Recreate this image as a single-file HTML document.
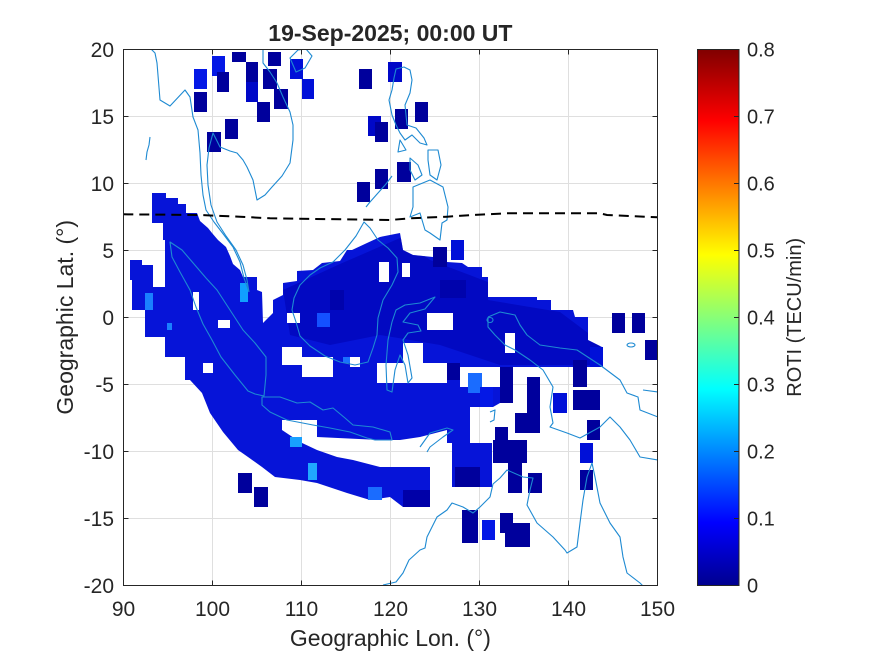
<!DOCTYPE html>
<html>
<head>
<meta charset="utf-8">
<style>
html,body{margin:0;padding:0;background:#fff;}
svg{display:block;}
text{font-family:"Liberation Sans",Arial,sans-serif;fill:#262626;}
</style>
</head>
<body>
<svg width="875" height="656" viewBox="0 0 875 656" xmlns="http://www.w3.org/2000/svg">
<defs>
<clipPath id="ax"><rect x="123.3" y="49.3" width="534" height="536"/></clipPath>
<clipPath id="blobclip"><polygon points="152,193 166,193 166,198 178,198 178,204 186,204 186,213 197,213 200,221 208,228 212,233 218,240 226,247 230,256 233,264 240,270 243,277 257,277 257,290 262,292 263,323 273,313 273,300 283,295 283,283 297,281 297,271 313,270 322,263 340,261 347,250 352,250 367,243 380,237 400,233 403,250 413,255 433,257 433,247 447,247 447,262 462,263 468,267 482,267 482,277 488,277 488,297 537,297 537,300 551,300 551,310 573,310 575,317 588,317 588,340 602,347 602,367 500,367 500,403 493,407 470,407 470,443 492,443 492,487 452,487 452,443 447,443 447,430 420,437 400,440 380,440 317,437 317,420 282,420 282,430 300,442 317,450 337,457 353,460 380,467 430,467 430,507 403,507 390,497 370,500 347,493 317,483 300,480 275,477 262,467 248,457 238,450 223,432 210,413 202,393 190,380 185,380 185,357 165,357 165,337 145,337 145,310 132,310 132,280 130,280 130,260 142,260 142,265 153,265 153,287 165,287 165,240 163,240 163,223 152,223"/></clipPath>
<linearGradient id="jet" x1="0" y1="1" x2="0" y2="0">
<stop offset="0" stop-color="#00008f"/>
<stop offset="0.117" stop-color="#0000ff"/>
<stop offset="0.367" stop-color="#00ffff"/>
<stop offset="0.617" stop-color="#ffff00"/>
<stop offset="0.867" stop-color="#ff0000"/>
<stop offset="1" stop-color="#800000"/>
</linearGradient>
</defs>
<rect width="875" height="656" fill="#fff"/>

<!-- grid -->
<g stroke="#dfdfdf" stroke-width="1">
<line x1="212.5" y1="49.5" x2="212.5" y2="585.5"/>
<line x1="301.5" y1="49.5" x2="301.5" y2="585.5"/>
<line x1="390.5" y1="49.5" x2="390.5" y2="585.5"/>
<line x1="479.5" y1="49.5" x2="479.5" y2="585.5"/>
<line x1="568.5" y1="49.5" x2="568.5" y2="585.5"/>
<line x1="123.5" y1="116.5" x2="657.5" y2="116.5"/>
<line x1="123.5" y1="183.5" x2="657.5" y2="183.5"/>
<line x1="123.5" y1="250.5" x2="657.5" y2="250.5"/>
<line x1="123.5" y1="317.5" x2="657.5" y2="317.5"/>
<line x1="123.5" y1="384.5" x2="657.5" y2="384.5"/>
<line x1="123.5" y1="451.5" x2="657.5" y2="451.5"/>
<line x1="123.5" y1="518.5" x2="657.5" y2="518.5"/>
</g>

<g clip-path="url(#ax)">
<!-- main blob -->
<polygon fill="#0614d8" points="152,193 166,193 166,198 178,198 178,204 186,204 186,213 197,213 200,221 208,228 212,233 218,240 226,247 230,256 233,264 240,270 243,277 257,277 257,290 262,292 263,323 273,313 273,300 283,295 283,283 297,281 297,271 313,270 322,263 340,261 347,250 352,250 367,243 380,237 400,233 403,250 413,255 433,257 433,247 447,247 447,262 462,263 468,267 482,267 482,277 488,277 488,297 537,297 537,300 551,300 551,310 573,310 575,317 588,317 588,340 602,347 602,367 500,367 500,403 493,407 470,407 470,443 492,443 492,487 452,487 452,443 447,443 447,430 420,437 400,440 380,440 317,437 317,420 282,420 282,430 300,442 317,450 337,457 353,460 380,467 430,467 430,507 403,507 390,497 370,500 347,493 317,483 300,480 275,477 262,467 248,457 238,450 223,432 210,413 202,393 190,380 185,380 185,357 165,357 165,337 145,337 145,310 132,310 132,280 130,280 130,260 142,260 142,265 153,265 153,287 165,287 165,240 163,240 163,223 152,223"/>
<!-- darker central region (clipped to blob) -->
<g clip-path="url(#blobclip)">
<polygon fill="#0000b0" opacity="0.55" points="283,290 340,264 400,238 430,260 488,282 488,300 560,312 600,342 600,365 500,365 440,345 380,335 330,345 290,335"/>
<rect x="403" y="490" width="27" height="17" fill="#0000a8"/>
<rect x="455" y="467" width="25" height="20" fill="#00009c"/>
<rect x="330" y="290" width="14" height="20" fill="#00009c" opacity="0.6"/>
<rect x="440" y="280" width="26" height="18" fill="#00009c" opacity="0.6"/>
</g>

<!-- holes -->
<g fill="#fff">
<rect x="282" y="347" width="20" height="18"/>
<rect x="302" y="357" width="31" height="20"/>
<rect x="287" y="313" width="13" height="10"/>
<rect x="350" y="357" width="10" height="10"/>
<rect x="203" y="363" width="10" height="10"/>
<rect x="377" y="363" width="70" height="20"/>
<rect x="403" y="343" width="20" height="20"/>
<rect x="427" y="313" width="26" height="17"/>
<rect x="379" y="262" width="10" height="20"/>
<rect x="505" y="333" width="10" height="20"/>
<rect x="460" y="367" width="40" height="20"/>
<rect x="402" y="263" width="8" height="14"/>
<rect x="218" y="320" width="12" height="8"/>
<rect x="193" y="292" width="6" height="18"/>
</g>

<!-- isolated cells -->
<rect x="194" y="69" width="13" height="20" fill="#0418e6"/>
<rect x="194" y="92" width="13" height="20" fill="#00009c"/>
<rect x="212" y="56" width="13" height="20" fill="#0418e6"/>
<rect x="217" y="72" width="12" height="20" fill="#00009c"/>
<rect x="232" y="52" width="14" height="10" fill="#00009c"/>
<rect x="246" y="62" width="12" height="20" fill="#00009c"/>
<rect x="246" y="82" width="12" height="20" fill="#0008c8"/>
<rect x="257" y="102" width="13" height="20" fill="#00009c"/>
<rect x="263" y="69" width="14" height="20" fill="#00009c"/>
<rect x="268" y="52" width="13" height="14" fill="#00009c"/>
<rect x="274" y="89" width="14" height="20" fill="#00009c"/>
<rect x="290" y="59" width="13" height="20" fill="#0010d8"/>
<rect x="302" y="79" width="12" height="20" fill="#0010d8"/>
<rect x="225" y="119" width="13" height="20" fill="#00009c"/>
<rect x="207" y="132" width="14" height="20" fill="#00009c"/>
<rect x="359" y="69" width="13" height="20" fill="#00009c"/>
<rect x="388" y="62" width="14" height="20" fill="#0008c8"/>
<rect x="395" y="109" width="13" height="20" fill="#00009c"/>
<rect x="415" y="102" width="13" height="20" fill="#00009c"/>
<rect x="368" y="116" width="13" height="20" fill="#0008c8"/>
<rect x="375" y="122" width="13" height="20" fill="#00009c"/>
<rect x="397" y="162" width="14" height="20" fill="#00009c"/>
<rect x="375" y="169" width="13" height="20" fill="#00009c"/>
<rect x="357" y="182" width="13" height="20" fill="#00009c"/>
<rect x="433" y="247" width="14" height="20" fill="#00009c"/>
<rect x="451" y="240" width="13" height="20" fill="#0010d8"/>

<rect x="612" y="313" width="13" height="20" fill="#00009c"/>
<rect x="632" y="313" width="13" height="20" fill="#00009c"/>
<rect x="645" y="340" width="12" height="20" fill="#00009c"/>
<rect x="590" y="347" width="13" height="20" fill="#0010d8"/>
<rect x="573" y="360" width="14" height="27" fill="#00009c"/>
<rect x="573" y="390" width="27" height="20" fill="#00009c"/>
<rect x="587" y="420" width="13" height="20" fill="#00009c"/>
<rect x="580" y="443" width="13" height="20" fill="#0010d8"/>
<rect x="580" y="470" width="13" height="20" fill="#00009c"/>
<rect x="553" y="393" width="14" height="20" fill="#0010d8"/>
<rect x="527" y="377" width="13" height="56" fill="#00009c"/>
<rect x="515" y="413" width="25" height="20" fill="#00009c"/>
<rect x="500" y="367" width="13" height="36" fill="#00009c"/>
<rect x="495" y="427" width="13" height="36" fill="#00009c"/>
<rect x="493" y="440" width="34" height="23" fill="#00009c"/>
<rect x="508" y="463" width="14" height="30" fill="#00009c"/>
<rect x="528" y="473" width="14" height="20" fill="#00009c"/>
<rect x="468" y="373" width="14" height="20" fill="#1a6cff"/>
<rect x="480" y="387" width="13" height="20" fill="#0418e6"/>
<rect x="447" y="363" width="13" height="17" fill="#00009c"/>
<rect x="462" y="510" width="16" height="33" fill="#00009c"/>
<rect x="482" y="520" width="13" height="20" fill="#0418e6"/>
<rect x="500" y="513" width="13" height="20" fill="#00009c"/>
<rect x="505" y="523" width="25" height="24" fill="#00009c"/>
<rect x="238" y="473" width="14" height="20" fill="#00009c"/>
<rect x="254" y="487" width="14" height="20" fill="#00009c"/>
<rect x="368" y="487" width="14" height="13" fill="#1a6cff"/>

<!-- light spots -->
<rect x="240" y="283" width="8" height="19" fill="#10a0ff"/>
<rect x="145" y="293" width="8" height="17" fill="#1a80ff"/>
<rect x="317" y="313" width="13" height="14" fill="#1450ff"/>
<rect x="290" y="437" width="12" height="10" fill="#18a0ff"/>
<rect x="308" y="463" width="9" height="17" fill="#20a8ff"/>
<rect x="343" y="357" width="7" height="6" fill="#1a70ff"/>
<rect x="167" y="323" width="5" height="7" fill="#1a80ff"/>

<!-- coastlines -->
<g fill="none" stroke="#1e8ad2" stroke-width="1.1" stroke-linejoin="round">
<polyline points="151,49 155,53 157,63 160,100 170,106 185,90 190,97 193,117 198,130 200,153 201,175 203,195 206,210 214,222 224,235 233,247 240,262 244,278 249,292"/>
<polyline points="249,292 247,280 243,265 236,250 226,236 217,222 211,205 208,185 207,165 209,148 213,133 220,147 230,151 237,153 243,160 247,167 253,180 257,200 265,195 272,187 282,176 290,163 293,140 293,125 290,112 283,97 277,83 270,72 263,63 263,49"/>
<polygon points="290,58 296,72 305,68 312,56 306,49 298,50"/>
<polyline points="150,137 149,145 147,152 146,160"/>
<polygon points="396,69 404,67 410,70 412,80 410,93 405,105 407,125 416,128 424,138 427,145 420,143 412,135 405,140 400,133 396,125 392,115 389,100 392,90 394,78"/>
<polygon points="400,140 406,150 398,152"/>
<polygon points="410,158 418,165 422,175 415,180 410,170"/>
<polygon points="428,150 438,150 441,165 437,180 430,175 428,160"/>
<polygon points="413,187 430,180 443,187 448,207 447,220 442,223 440,240 430,233 425,230 420,213 410,217 413,207"/>
<polyline points="392,176 386,184 378,193 370,202 366,207"/>
<polygon points="364,222 356,236 345,250 333,262 320,268 310,275 300,285 294,298 292,310 296,322 300,336 310,346 325,356 340,362 355,365 368,362 373,348 377,335 378,318 383,300 392,285 398,272 397,258 388,248 378,240 370,228"/>
<polygon points="170,242 182,250 194,264 206,278 217,290 230,310 243,330 255,343 266,357 266,375 264,396 255,394 248,391 235,375 221,357 212,340 203,324 196,307 190,290 180,272 172,257"/>
<polygon points="262,397 280,397 297,403 310,402 323,410 333,408 345,418 353,425 373,427 390,432 392,440 375,440 367,438 350,432 330,428 313,425 287,420 270,412 262,405"/>
<polygon points="435,297 420,303 405,305 396,310 392,322 388,340 386,365 387,390 392,392 395,370 400,355 405,365 408,383 412,378 408,355 403,340 408,333 421,331 418,325 403,322 410,313 425,309"/>
<polyline points="488,317 500,312 515,315 520,325 527,335 540,345 560,348 577,350 600,365 620,380 627,393 638,397 640,410 658,417"/>
<polyline points="658,460 640,457 630,440 620,427 610,417 600,427 580,438 567,433 550,427 553,423 550,407 553,387 543,370 530,360 515,350 505,345 495,335 488,327 488,317"/>
<polyline points="643,390 658,392"/>
<ellipse cx="631" cy="345" rx="4" ry="2"/>
<ellipse cx="490" cy="320" rx="3" ry="2.5"/>
<polyline points="420,447 430,433 447,428 453,430 443,437 430,447 427,452"/>
<polyline points="490,412 495,410 494,420 490,422"/>
<polyline points="383,585 396,582 403,573 409,560 420,550 425,548 427,537 437,517 447,510 452,503 463,507 473,513 480,507 490,497 493,484 500,478 507,470 523,477 533,478 530,490 527,505 537,523 553,537 565,550 567,553 577,547 580,523 583,500 587,477 592,463 595,477 600,503 610,523 620,537 623,557 627,573 640,583 643,586"/>
</g>

<!-- dashed magnetic equator -->
<polyline fill="none" stroke="#000" stroke-width="2" stroke-dasharray="10 6" points="123.3,214.3 200,215 240,216.7 270,218.3 390,220 410,218.3 447,216.7 473,215 507,213.3 600,213.3 607,215 658,217.3"/>
</g>

<!-- axes box and ticks -->
<rect x="123.5" y="49.5" width="534" height="536" fill="none" stroke="#262626" stroke-width="1"/>
<g stroke="#262626" stroke-width="1">
<line x1="212.5" y1="585.5" x2="212.5" y2="580.5"/><line x1="301.5" y1="585.5" x2="301.5" y2="580.5"/><line x1="390.5" y1="585.5" x2="390.5" y2="580.5"/><line x1="479.5" y1="585.5" x2="479.5" y2="580.5"/><line x1="568.5" y1="585.5" x2="568.5" y2="580.5"/>
<line x1="212.5" y1="49.5" x2="212.5" y2="54.5"/><line x1="301.5" y1="49.5" x2="301.5" y2="54.5"/><line x1="390.5" y1="49.5" x2="390.5" y2="54.5"/><line x1="479.5" y1="49.5" x2="479.5" y2="54.5"/><line x1="568.5" y1="49.5" x2="568.5" y2="54.5"/>
<line x1="123.5" y1="116.5" x2="128.5" y2="116.5"/><line x1="123.5" y1="183.5" x2="128.5" y2="183.5"/><line x1="123.5" y1="250.5" x2="128.5" y2="250.5"/><line x1="123.5" y1="317.5" x2="128.5" y2="317.5"/><line x1="123.5" y1="384.5" x2="128.5" y2="384.5"/><line x1="123.5" y1="451.5" x2="128.5" y2="451.5"/><line x1="123.5" y1="518.5" x2="128.5" y2="518.5"/>
<line x1="657.5" y1="116.5" x2="652.5" y2="116.5"/><line x1="657.5" y1="183.5" x2="652.5" y2="183.5"/><line x1="657.5" y1="250.5" x2="652.5" y2="250.5"/><line x1="657.5" y1="317.5" x2="652.5" y2="317.5"/><line x1="657.5" y1="384.5" x2="652.5" y2="384.5"/><line x1="657.5" y1="451.5" x2="652.5" y2="451.5"/><line x1="657.5" y1="518.5" x2="652.5" y2="518.5"/>
</g>

<!-- tick labels -->
<g font-size="21" text-anchor="middle">
<text x="123.5" y="616">90</text>
<text x="212.5" y="616">100</text>
<text x="301.5" y="616">110</text>
<text x="390.5" y="616">120</text>
<text x="479.5" y="616">130</text>
<text x="568.5" y="616">140</text>
<text x="657.5" y="616">150</text>
</g>
<g font-size="21" text-anchor="end">
<text x="114" y="57">20</text>
<text x="114" y="124">15</text>
<text x="114" y="191">10</text>
<text x="114" y="258">5</text>
<text x="114" y="325">0</text>
<text x="114" y="392">-5</text>
<text x="114" y="459">-10</text>
<text x="114" y="526">-15</text>
<text x="114" y="593">-20</text>
</g>

<text x="390.4" y="41" font-size="23" font-weight="bold" text-anchor="middle" fill="#000">19-Sep-2025; 00:00 UT</text>
<text x="390.4" y="646" font-size="23" text-anchor="middle">Geographic Lon. (°)</text>
<text transform="translate(73,317.3) rotate(-90)" font-size="23" text-anchor="middle">Geographic Lat. (°)</text>

<!-- colorbar -->
<rect x="697.5" y="49.5" width="41.5" height="536" fill="url(#jet)"/>
<rect x="697.5" y="49.5" width="41.5" height="536" fill="none" stroke="#262626" stroke-width="1"/>
<g stroke="#262626" stroke-width="1">
<line x1="739" y1="116.5" x2="734" y2="116.5"/><line x1="739" y1="183.5" x2="734" y2="183.5"/><line x1="739" y1="250.5" x2="734" y2="250.5"/><line x1="739" y1="317.5" x2="734" y2="317.5"/><line x1="739" y1="384.5" x2="734" y2="384.5"/><line x1="739" y1="451.5" x2="734" y2="451.5"/><line x1="739" y1="518.5" x2="734" y2="518.5"/>
</g>
<g font-size="20" text-anchor="start">
<text x="747" y="56.5">0.8</text>
<text x="747" y="123.5">0.7</text>
<text x="747" y="190.5">0.6</text>
<text x="747" y="257.5">0.5</text>
<text x="747" y="324.5">0.4</text>
<text x="747" y="391.5">0.3</text>
<text x="747" y="458.5">0.2</text>
<text x="747" y="525.5">0.1</text>
<text x="747" y="592.5">0</text>
</g>
<text transform="translate(801,317.3) rotate(-90)" font-size="20" text-anchor="middle">ROTI (TECU/min)</text>
</svg>
</body>
</html>
